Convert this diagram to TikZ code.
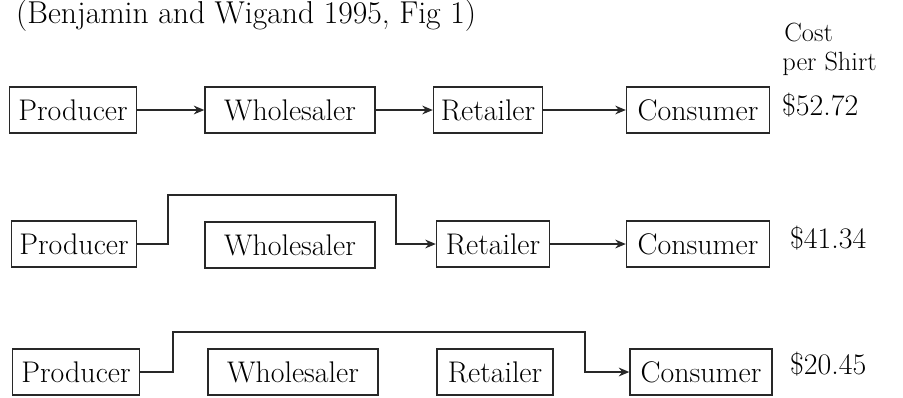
\documentclass[tikz,border=0pt]{standalone}
\usepackage{tikz}
\usetikzlibrary{arrows.meta,positioning}
\definecolor{inkgrey}{RGB}{40,40,40}

\begin{document}
\begin{tikzpicture}[x=0.02cm, y=-0.02cm,
    firm/.style={rectangle, draw=inkgrey, line width=0.8pt, minimum height=0.92cm,
                 inner sep=2pt, font=\fontsize{17}{19}\selectfont},
    flow/.style={draw=inkgrey, line width=0.8pt, -{Stealth[length=6pt,width=5pt]}},
    price/.style={font=\fontsize{17}{19}\selectfont, anchor=west},
    head/.style={font=\fontsize{15}{17}\selectfont, anchor=west, inner sep=0pt}
]
    \useasboundingbox (0,0) rectangle (903,397);

    \node[font=\fontsize{18}{20}\selectfont, anchor=west] (src) at (10,16) {(Benjamin and Wigand 1995, Fig 1)};
    \node[head] (costhead) at (784,32) {Cost};
    \node[head] (pershirt) at (782,64) {per Shirt};

    % direct chain through every stage
    \node[firm, minimum width=2.54cm] (prodA) at (73,110) {Producer};
    \node[firm, minimum width=3.4cm]  (wholA) at (290,110) {Wholesaler};
    \node[firm, minimum width=2.18cm] (retA)  at (488,110) {Retailer};
    \node[firm, minimum width=2.86cm] (consA) at (698,110) {Consumer};
    \node[price] (costA) at (776,105) {\$52.72};
    \draw[flow] (prodA) -- (wholA);
    \draw[flow] (wholA) -- (retA);
    \draw[flow] (retA) -- (consA);

    % wholesaler skipped
    \node[firm, minimum width=2.5cm]  (prodB) at (74,244) {Producer};
    \node[firm, minimum width=3.4cm]  (wholB) at (290,245) {Wholesaler};
    \node[firm, minimum width=2.26cm] (retB)  at (493,244) {Retailer};
    \node[firm, minimum width=2.86cm] (consB) at (698,244) {Consumer};
    \node[price] (costB) at (784,238) {\$41.34};
    \draw[flow] (prodB.east) -- ++(31,0) |- (396,195) |- (retB.west);
    \draw[flow] (retB) -- (consB);

    % wholesaler and retailer skipped
    \node[firm, minimum width=2.54cm] (prodC) at (76,372) {Producer};
    \node[firm, minimum width=3.4cm]  (wholC) at (293,372) {Wholesaler};
    \node[firm, minimum width=2.32cm] (retC)  at (495,372) {Retailer};
    \node[firm, minimum width=2.84cm] (consC) at (701,372) {Consumer};
    \node[price] (costC) at (784,364) {\$20.45};
    \draw[flow] (prodC.east) -- ++(33,0) |- (585,332) |- (consC.west);
\end{tikzpicture}
\end{document}
